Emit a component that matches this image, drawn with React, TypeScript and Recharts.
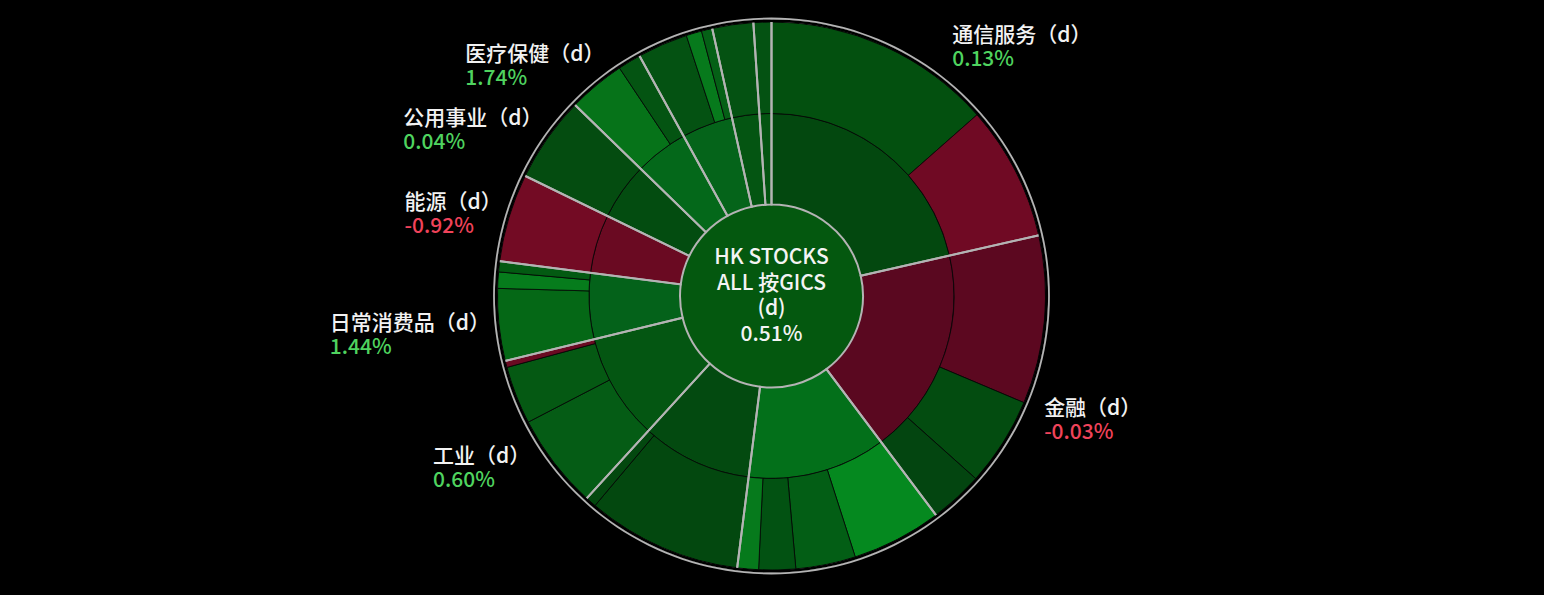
import React from 'react';
import { PieChart, Pie, Cell } from 'recharts';

// ---- data ----
const sectorNames = ['通信服务', '金融', '非必需消费', '信息技术', '工业', '日常消费品', '能源', '公用事业', '医疗保健', '房地产', '原材料', '综合企业'];
const sectorChangeLabels = ['0.13%', '-0.03%', '', '', '0.60%', '1.44%', '-0.92%', '0.04%', '1.74%', '', '', ''];
const subWeights: number[][] = [
  [48.6, 28.6],
  [35.7, 18.9, 11.3],
  [19.1, 12.7, 7.8, 4.5],
  [32.9, 2.3],
  [20.2, 12.3, 1.4],
  [15.3, 3.45, 2.25],
  [18.7],
  [18.2],
  [12.1, 4.9],
  [10.7, 3.3, 2.3],
  [8.7],
  [3.8],
];
const centerLines = ['HK STOCKS', 'ALL 按GICS', '(d)', '0.51%'];

// ---- styles ----
const sectorColors = ['#03480f', '#5a0820', '#03701a', '#034a10', '#045612', '#04621a', '#6a0a22', '#034c10', '#04681a', '#05641a', '#045512', '#045412'];
const subColors: string[][] = [
  ['#03500f', '#700a24'],
  ['#5c0820', '#034c10', '#034510'],
  ['#05891f', '#035e15', '#025212', '#067a1c'],
  ['#03480f', '#03480f'],
  ['#055c15', '#055913', '#6a0a22'],
  ['#056816', '#067c1c', '#035a12'],
  ['#730b24'],
  ['#044c10'],
  ['#067319', '#045412'],
  ['#045212', '#077a1c', '#056016'],
  ['#045212'],
  ['#045212'],
];
const innerColor = '#04580f';
const gray = '#b4b4b4';
const posColor = '#4fd35f';
const negColor = '#f0435a';
const FONT = '"Noto Sans CJK SC", "Noto Sans", sans-serif';
const WEIGHT = 500;

const W = 1544;
const H = 595;
const CX = 771.5;
const CY = 296;
const R0 = 91.5;
const R1 = 182.5;
const R2 = 274;
const LABEL_R = 292;
const RAD = Math.PI / 180;

const middleData = sectorNames.map((name, i) => ({
  name,
  value: subWeights[i].reduce((a, b) => a + b, 0),
}));
const outerData = subWeights.flatMap((ws, i) => ws.map((v, j) => ({ name: `${sectorNames[i]}-${j}`, value: v, color: subColors[i][j] })));

let ctx: CanvasRenderingContext2D | null = null;
function measure(s: string): number {
  if (!ctx) {
    const c = document.createElement('canvas');
    ctx = c.getContext('2d');
  }
  if (!ctx) return s.length * 18;
  ctx.font = `${WEIGHT} 21px ${FONT}`;
  return ctx.measureText(s).width;
}

function renderSectorLabel(props: any) {
  const { index, midAngle } = props;
  const change = sectorChangeLabels[index];
  if (!change) return null;
  const ax = CX + LABEL_R * Math.cos(-midAngle * RAD);
  const ay = CY + LABEL_R * Math.sin(-midAngle * RAD);
  const right = Math.cos(midAngle * RAD) > 0;
  const upper = Math.sin(midAngle * RAD) > 0;
  let base1: number;
  if (!upper) base1 = ay + 18;
  else if (right) base1 = ay - 26;
  else base1 = ay - 3;
  const line1 = `${sectorNames[index]}（d）`;
  const w = measure(line1);
  const x = right ? ax - 1.5 : ax - w + 10;
  const neg = change.startsWith('-');
  return (
    <g key={`lbl-${index}`}>
      <text x={x} y={base1} fill="#f2f2f2" fontSize={21} fontWeight={WEIGHT} fontFamily={FONT}>{line1}</text>
      <text x={x} y={base1 + 24} fill={neg ? negColor : posColor} fontSize={21} fontWeight={WEIGHT} fontFamily={FONT}>{change}</text>
    </g>
  );
}

function renderCenter() {
  const offs = [-32, -6.5, 19, 45];
  return (
    <g key="center">
      {centerLines.map((t, i) => (
        <text key={i} x={CX} y={CY + offs[i]} textAnchor="middle" fill="#f4f4f4" fontSize={21} fontWeight={WEIGHT} fontFamily={FONT}>{t}</text>
      ))}
    </g>
  );
}

export default function App() {
  return (
    <div style={{ position: 'absolute', left: 0, top: 0, width: W, height: H, background: '#000', overflow: 'hidden' }}>
      <PieChart width={W} height={H} margin={{ top: 0, right: 0, bottom: 0, left: 0 }}>
        <Pie
          data={[{ name: 'root', value: 1 }]}
          dataKey="value"
          cx={CX}
          cy={CY}
          innerRadius={0}
          outerRadius={R0}
          startAngle={90}
          endAngle={-270}
          fill={innerColor}
          stroke="none"
          isAnimationActive={false}
          label={renderCenter}
          labelLine={false}
        />
        <Pie
          data={middleData}
          dataKey="value"
          cx={CX}
          cy={CY}
          innerRadius={R0}
          outerRadius={R1}
          startAngle={90}
          endAngle={-270}
          stroke="#060606"
          strokeWidth={0.8}
          isAnimationActive={false}
          label={renderSectorLabel}
          labelLine={false}
        >
          {middleData.map((d, i) => (
            <Cell key={d.name} fill={sectorColors[i]} />
          ))}
        </Pie>
        <Pie
          data={outerData}
          dataKey="value"
          cx={CX}
          cy={CY}
          innerRadius={R1}
          outerRadius={R2}
          startAngle={90}
          endAngle={-270}
          stroke="#060606"
          strokeWidth={0.8}
          isAnimationActive={false}
        >
          {outerData.map((d) => (
            <Cell key={d.name} fill={d.color} />
          ))}
        </Pie>
        <Pie
          data={middleData}
          dataKey="value"
          cx={CX}
          cy={CY}
          innerRadius={R0}
          outerRadius={R2 + 1.5}
          startAngle={90}
          endAngle={-270}
          fill="none"
          stroke={gray}
          strokeWidth={2}
          isAnimationActive={false}
        >
          {middleData.map((d) => (
            <Cell key={d.name} fill="none" />
          ))}
        </Pie>
        <Pie
          data={[{ name: 'gap', value: 1 }]}
          dataKey="value"
          cx={CX}
          cy={CY}
          innerRadius={R2}
          outerRadius={R2 + 2.6}
          startAngle={90}
          endAngle={-270}
          fill="#000"
          stroke="none"
          isAnimationActive={false}
        />
        <Pie
          data={[{ name: 'rim', value: 1 }]}
          dataKey="value"
          cx={CX}
          cy={CY}
          innerRadius={R2 + 2.6}
          outerRadius={R2 + 4.4}
          startAngle={90}
          endAngle={-270}
          fill={gray}
          stroke="none"
          isAnimationActive={false}
        />
      </PieChart>
    </div>
  );
}
